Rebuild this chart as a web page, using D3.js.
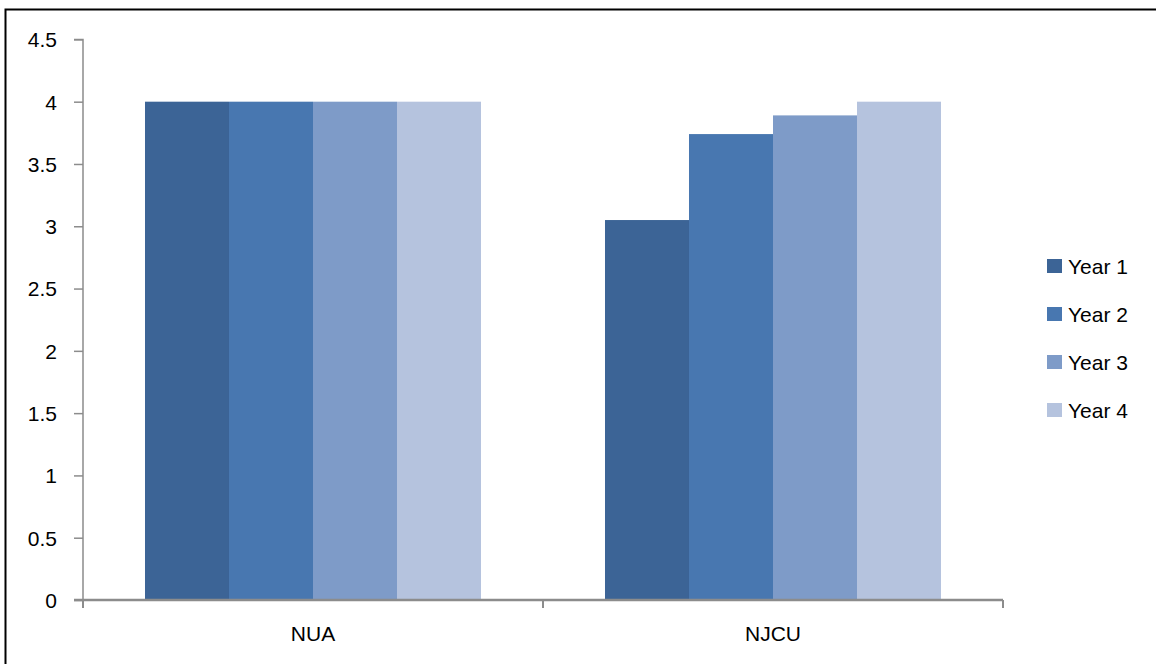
<!DOCTYPE html>
<html>
<head>
<meta charset="utf-8">
<script src="https://cdn.jsdelivr.net/npm/d3@7"></script>
<style>
  body { margin: 0; background: #fff; }
  svg text { font-family: "Liberation Sans", Arial, sans-serif; fill: #000; }
</style>
</head>
<body>
<svg id="chart" width="1156" height="664"></svg>
<script>
var categories = ["NUA", "NJCU"]
var seriesNames = ["Year 1", "Year 2", "Year 3", "Year 4"]
var seriesColors = ["#3c6496", "#4877b0", "#7e9bc8", "#b5c3de"]
var nuaValues = [4, 4, 4, 4]
var njcuValues = [3.05, 3.74, 3.89, 4]
var yTicks = [0, 0.5, 1, 1.5, 2, 2.5, 3, 3.5, 4, 4.5]

var table = categories.map(function (c, i) {
    var vals = i === 0 ? nuaValues : njcuValues
    return { cat: c, values: seriesNames.map(function (s, j) { return { name: s, value: vals[j], color: seriesColors[j] } }) }
})

var svg = d3.select("#chart")

// outer frame (only left and top edges visible)
svg.append("rect")
    .attr("x", 5.5).attr("y", 9.5)
    .attr("width", 1200).attr("height", 700)
    .attr("fill", "none").attr("stroke", "#000").attr("stroke-width", 2)

var plotLeft = 83, plotRight = 1003, plotTop = 39.4, plotBottom = 600

const X_scale = d3.scaleBand()
    .domain(categories)
    .range([plotLeft, plotRight])

const Y_scale = d3.scaleLinear()
    .domain([0, 4.5])
    .range([plotBottom, plotTop])

const inner = d3.scaleBand()
    .domain(seriesNames)
    .range([0, X_scale.bandwidth()])
    .paddingOuter(0.738)

var groups = svg.selectAll("g.cat")
    .data(table)
    .join("g")
    .attr("class", "cat")
    .attr("transform", d => `translate(${X_scale(d.cat)},0)`)

groups.selectAll("rect")
    .data(d => d.values)
    .join("rect")
    .attr("x", d => inner(d.name))
    .attr("width", inner.bandwidth())
    .attr("y", d => Y_scale(d.value))
    .attr("height", d => plotBottom - Y_scale(d.value))
    .attr("fill", d => d.color)

// y axis
var yAxis = svg.append("g")
    .attr("transform", `translate(${plotLeft},0)`)
    .call(d3.axisLeft(Y_scale).tickValues(yTicks).tickSize(9).tickPadding(17)
        .tickFormat(d => d3.format("")(d)))
yAxis.select(".domain").attr("stroke", "#8c8c8c").attr("stroke-width", 1.5)
    .attr("d", `M-9,${plotTop}H0V${plotBottom + 8}`)
yAxis.selectAll(".tick line").attr("stroke", "#8c8c8c").attr("stroke-width", 1.5)
yAxis.selectAll(".tick text").style("font-size", "21px").attr("dy", "0.35em")

// x axis
var xAxis = svg.append("g")
    .attr("transform", `translate(0,${plotBottom})`)
    .call(d3.axisBottom(X_scale).tickSize(0).tickPadding(26))
xAxis.select(".domain").attr("stroke", "#8c8c8c").attr("stroke-width", 2.5)
    .attr("d", `M${plotLeft - 9},0H${plotRight}`)
xAxis.selectAll(".tick text").style("font-size", "21px")

// x tick marks at band edges
var edges = categories.map(c => X_scale(c)).concat([plotRight])
svg.append("g").selectAll("line")
    .data(edges)
    .join("line")
    .attr("x1", d => d).attr("x2", d => d)
    .attr("y1", plotBottom).attr("y2", plotBottom + 8)
    .attr("stroke", "#8c8c8c").attr("stroke-width", 2)

// legend
var legend = svg.append("g").attr("transform", "translate(1047,259)")
var items = legend.selectAll("g")
    .data(seriesNames)
    .join("g")
    .attr("transform", (d, i) => `translate(0,${i * 48})`)
items.append("rect")
    .attr("width", 15).attr("height", 14)
    .attr("fill", (d, i) => seriesColors[i])
items.append("text")
    .attr("x", 21).attr("y", 15)
    .style("font-size", "21px")
    .text(d => d)
</script>
</body>
</html>
